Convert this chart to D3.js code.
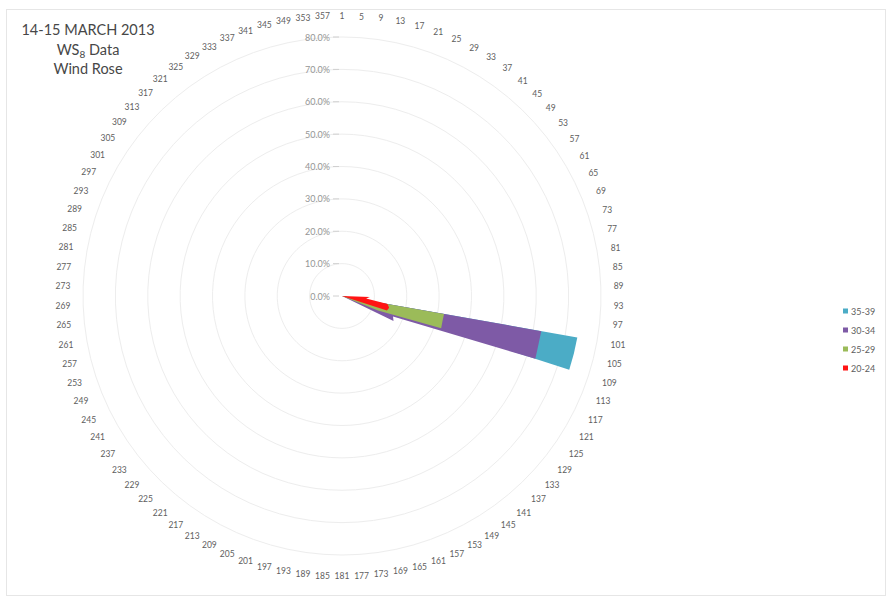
<!DOCTYPE html>
<html><head><meta charset="utf-8">
<script src="https://cdn.jsdelivr.net/npm/d3@7"></script>
<style>body{margin:0;background:#fff;} svg{display:block;}</style>
</head><body>
<svg id="chart" width="891" height="599"></svg>
<script>
// ---- data ----
const categories = [1,5,9,13,17,21,25,29,33,37,41,45,49,53,57,61,65,69,73,77,81,85,89,93,97,
  101,105,109,113,117,121,125,129,133,137,141,145,149,153,157,161,165,169,173,177,181,185,189,193,197,
  201,205,209,213,217,221,225,229,233,237,241,245,249,253,257,261,265,269,273,277,281,285,289,293,297,
  301,305,309,313,317,321,325,329,333,337,341,345,349,353,357];
const radialTicks = [0,10,20,30,40,50,60,70,80];
const seriesNames = ["35-39","30-34","25-29","20-24"];
// [category, percent]; all other categories are 0
const s35_39 = [[101,73.8],[105,73.8],[109,73.8]];
const s30_34 = [[101,62.5],[105,62.5],[109,62.8],[113,17.0],[117,17.7]];
const s25_29 = [[101,32.0],[105,32.0],[109,32.2],[113,12.0]];
const s20_24 = [[93,8.6],[97,7.5],[101,14.3],[105,15.0],[109,14.6]];
const seriesData = [s35_39, s30_34, s25_29, s20_24];
const colors = ["#4bacc6","#7e5aa6","#9bbb59","#ff1414"];
const titleLines = ["14-15 MARCH 2013", "Wind Rose"];

// ---- layout ----
const svg = d3.select("#chart");
const cx = 342, cy = 296, R = 259;
const angle = d3.scaleBand().domain(categories).range([0, 2*Math.PI]).paddingInner(0).paddingOuter(0);
const rad = d3.scaleLinear().domain([0, 80]).range([0, R]);

svg.append("rect").attr("x",6.5).attr("y",9.5).attr("width",879).attr("height",586)
  .attr("fill","none").attr("stroke","#e6e6e6");

const g = svg.append("g").attr("transform",`translate(${cx},${cy})`);

// rings
const ringLine = d3.lineRadial().angle(c => angle(c)).curve(d3.curveLinearClosed);
radialTicks.filter(t => t > 0).forEach(t => {
  g.append("path").attr("d", ringLine.radius(() => rad(t))(categories))
    .attr("fill","none").attr("stroke","#ededed").attr("stroke-width",1);
});

// series polygons
const areaLine = d3.lineRadial().angle(d => angle(d[0])).radius(d => rad(d[1])).curve(d3.curveLinearClosed);
seriesData.forEach((s, i) => {
  const m = new Map(s);
  const pts = categories.map(c => [c, m.get(c) || 0]);
  g.append("path").attr("d", areaLine(pts)).attr("fill", colors[i]).attr("stroke","none");
});

// value axis labels + ticks
const fmt = d3.format(".1%");
radialTicks.forEach(t => {
  g.append("line").attr("x1",-9).attr("x2",-3).attr("y1",-rad(t)).attr("y2",-rad(t))
    .attr("stroke","#d0d0d0").attr("stroke-width",1);
  g.append("text").attr("x",-12).attr("y",-rad(t)).attr("text-anchor","end")
    .attr("dominant-baseline","central").attr("font-family","Lato, 'Open Sans', sans-serif")
    .attr("font-size","9px").attr("fill","#959595").text(fmt(t/100));
});

// category labels
categories.forEach(c => {
  const a = angle(c);
  const t = g.append("text").attr("text-anchor","middle").attr("dominant-baseline","central")
    .attr("font-family","Lato, 'Open Sans', sans-serif").attr("font-size","8.5px").attr("fill","#5e5e5e")
    .text(c);
  const w = t.node().getComputedTextLength();
  const rr = 271.5 + Math.abs(Math.sin(a))*w/2 + Math.abs(Math.cos(a))*8.5;
  t.attr("x", rr*Math.sin(a)).attr("y", -rr*Math.cos(a));
});

// title
const tf = "Lato, 'Open Sans', sans-serif";
svg.append("text").attr("x",88).attr("y",35).attr("text-anchor","middle").attr("font-family",tf)
  .attr("font-size","14.5px").attr("fill","#474747").text(titleLines[0]);
const t2 = svg.append("text").attr("x",88).attr("y",55).attr("text-anchor","middle").attr("font-family",tf)
  .attr("font-size","14.5px").attr("fill","#474747");
t2.append("tspan").text("WS");
t2.append("tspan").attr("font-size","10px").attr("dy",3).text("8");
t2.append("tspan").attr("dy",-3).text(" Data");
svg.append("text").attr("x",88).attr("y",74).attr("text-anchor","middle").attr("font-family",tf)
  .attr("font-size","14.5px").attr("fill","#474747").text(titleLines[1]);

// legend
const lg = svg.append("g");
seriesNames.forEach((n, i) => {
  const y = 311 + i*19;
  lg.append("rect").attr("x",843).attr("y",y-2.5).attr("width",5).attr("height",5).attr("fill",colors[i]);
  lg.append("text").attr("x",851).attr("y",y).attr("dominant-baseline","central")
    .attr("font-family",tf).attr("font-size","9px").attr("fill","#5e5e5e").text(n);
});
</script>
</body></html>
